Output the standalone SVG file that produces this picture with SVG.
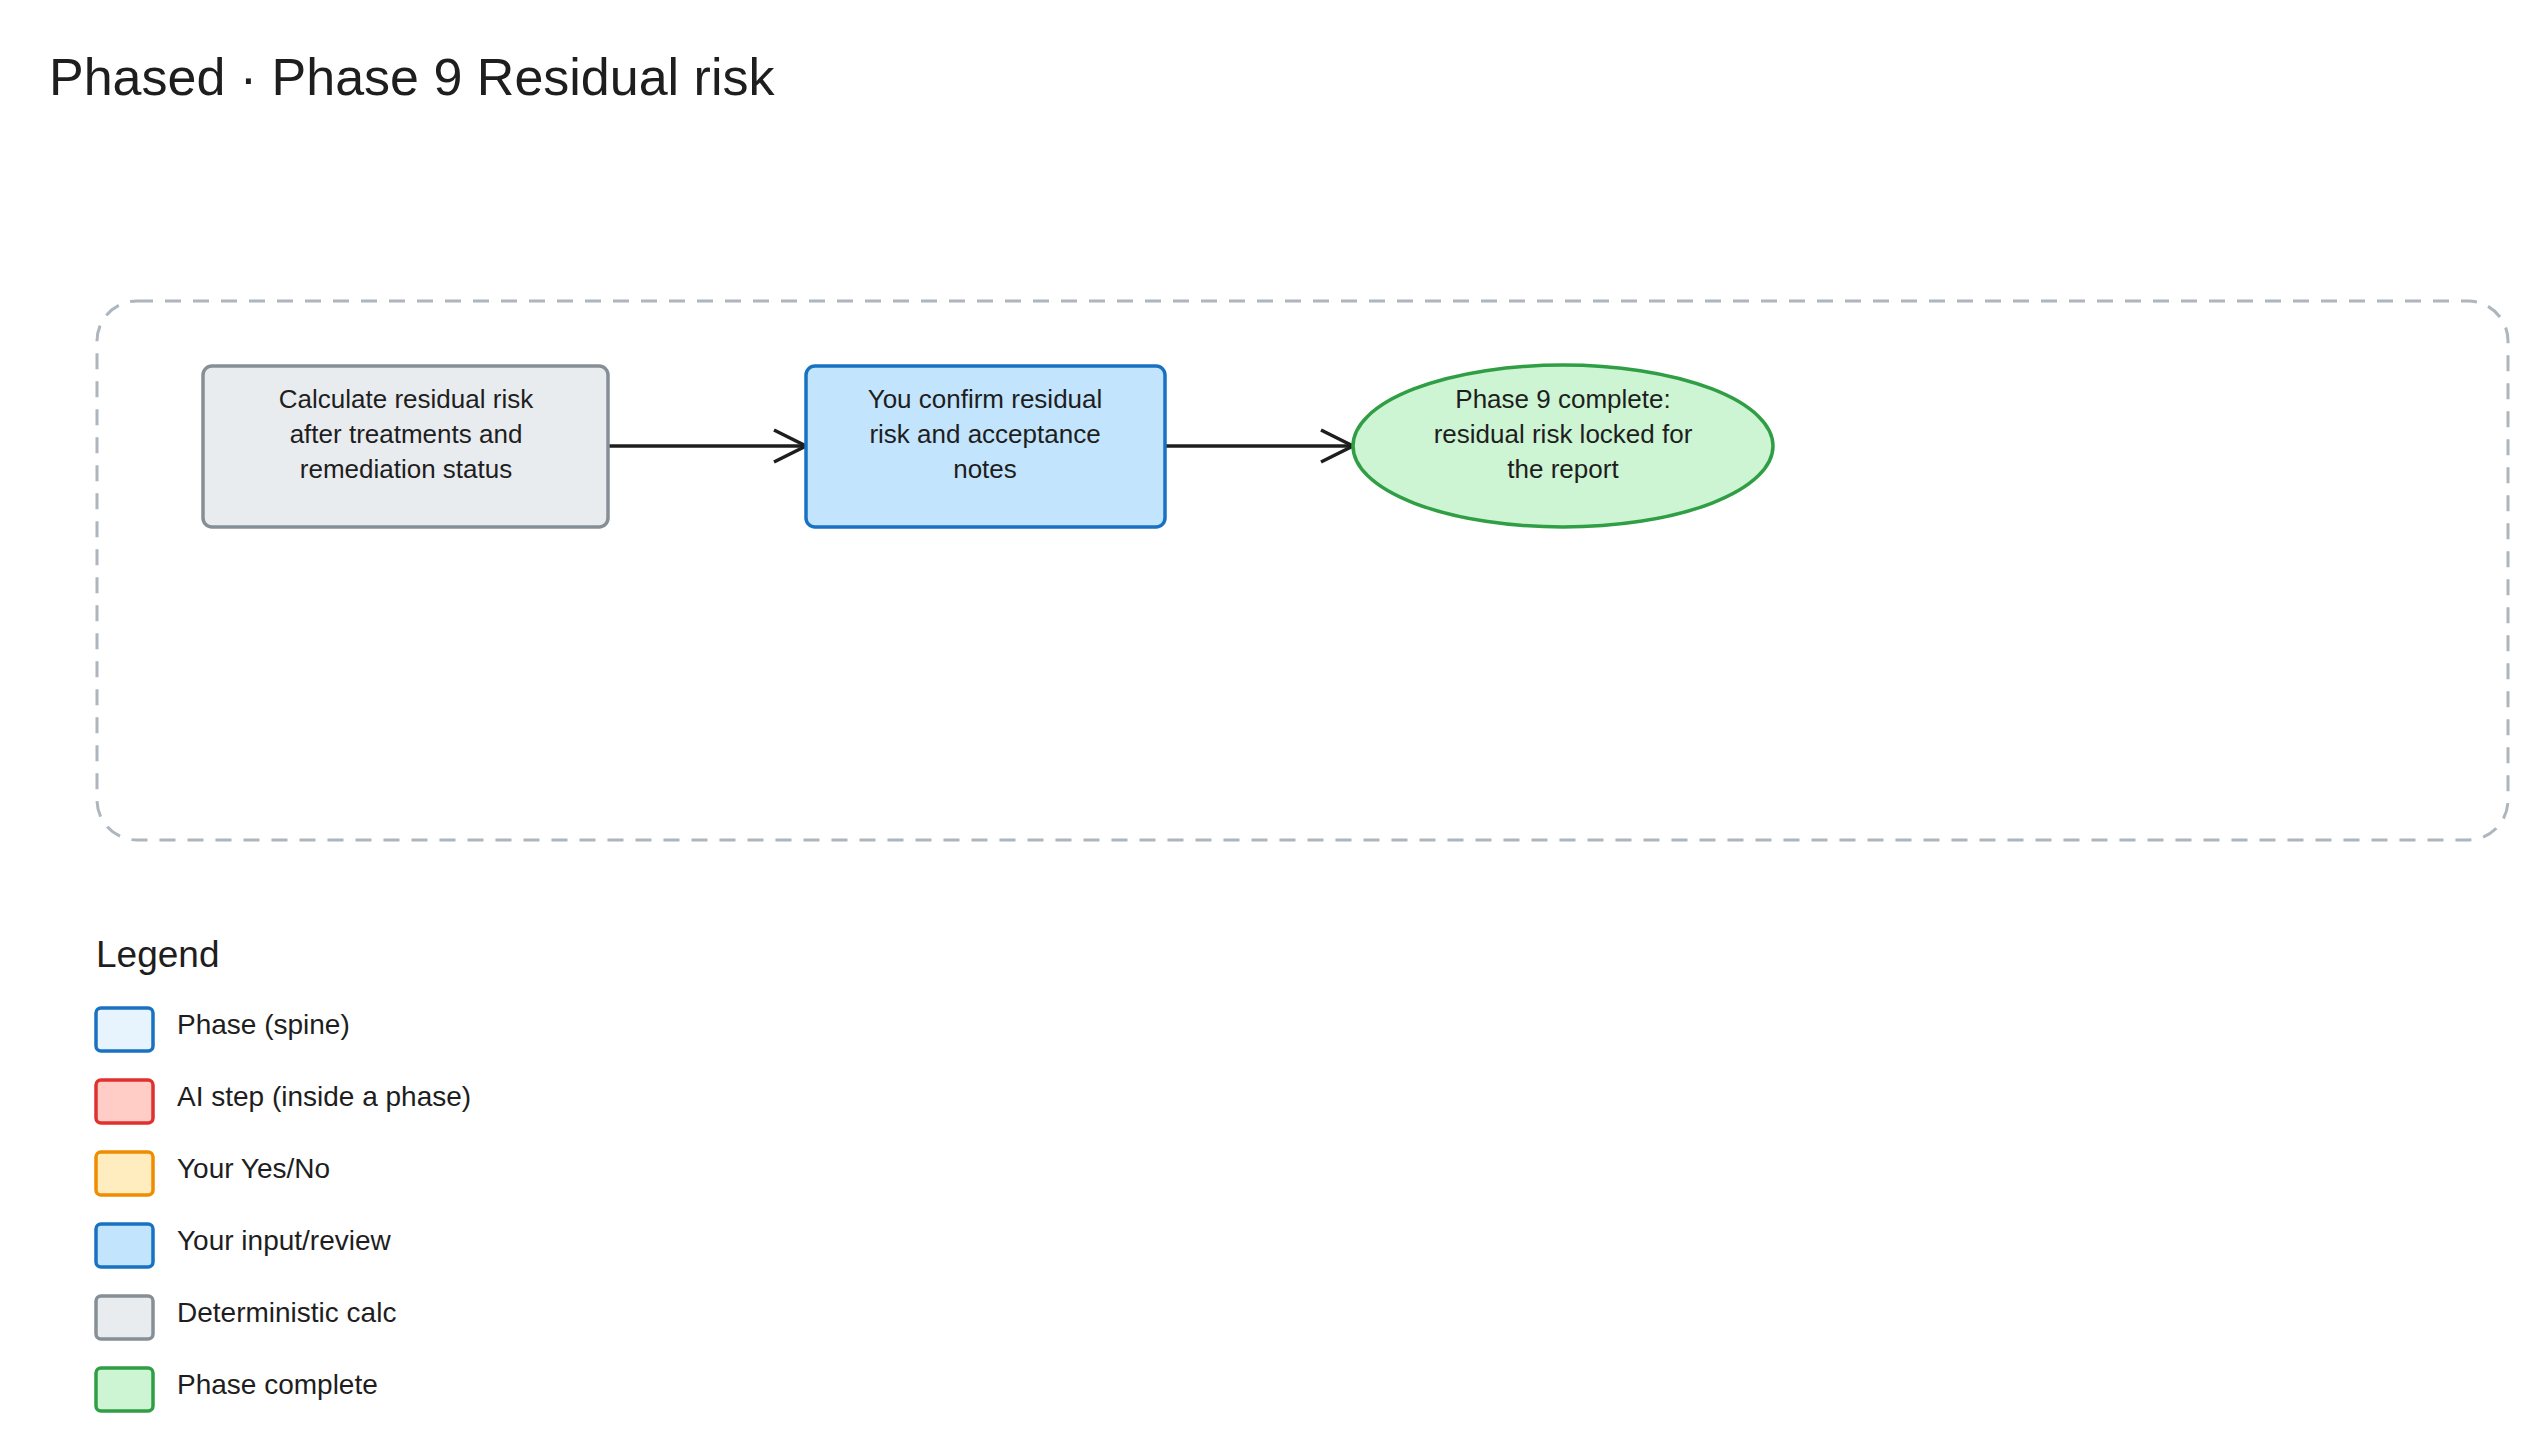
<svg xmlns="http://www.w3.org/2000/svg" width="2544" height="1456" viewBox="0 0 2544 1456">
<style>
text{font-family:"Liberation Sans",Arial,sans-serif;fill:#1e1e1e}
.n{font-size:26px;text-anchor:middle}
.l{font-size:28px}
.sw{stroke-width:3.5}
.c{stroke:#1e1e1e;stroke-width:3.5;fill:none}
</style>
<defs>
<marker id="a" markerWidth="40" markerHeight="40" refX="36" refY="20" orientation="auto" markerUnits="userSpaceOnUse" orient="auto">
<path d="M4 4 L36 20 L4 36" fill="none" stroke="#1e1e1e" stroke-width="3.5"/>
</marker>
</defs>
<rect width="2544" height="1456" fill="#fff"/>
<text x="49" y="95" style="font-size:52px">Phased · Phase 9 Residual risk</text>
<rect x="97" y="301" width="2411" height="539" rx="40" fill="none" stroke="#adb5bd" stroke-width="3" stroke-dasharray="16 12"/>
<g id="connectors">
<line class="c" x1="608" y1="446" x2="806" y2="446" marker-end="url(#a)"/>
<line class="c" x1="1165" y1="446" x2="1353" y2="446" marker-end="url(#a)"/>
</g>
<g id="calc">
<rect x="203" y="366" width="405" height="161" rx="9" fill="#e9ecef" stroke="#868e96" class="sw"/>
<text class="n" x="406" y="408">Calculate residual risk</text>
<text class="n" x="406" y="443">after treatments and</text>
<text class="n" x="406" y="478">remediation status</text>
</g>
<g id="confirm">
<rect x="806" y="366" width="359" height="161" rx="9" fill="#c2e4fc" stroke="#1971c2" class="sw"/>
<text class="n" x="985" y="408">You confirm residual</text>
<text class="n" x="985" y="443">risk and acceptance</text>
<text class="n" x="985" y="478">notes</text>
</g>
<g id="complete">
<ellipse cx="1563" cy="446" rx="210" ry="81" fill="#cdf4d3" stroke="#2f9e44" class="sw"/>
<text class="n" x="1563" y="408">Phase 9 complete:</text>
<text class="n" x="1563" y="443">residual risk locked for</text>
<text class="n" x="1563" y="478">the report</text>
</g>
<g id="legend">
<text x="96" y="967" style="font-size:37px">Legend</text>
<rect x="96" y="1008" width="57" height="43" rx="5" fill="#e8f4fd" stroke="#1971c2" class="sw"/>
<text class="l" x="177" y="1034">Phase (spine)</text>
<rect x="96" y="1080" width="57" height="43" rx="5" fill="#ffcdc6" stroke="#e03131" class="sw"/>
<text class="l" x="177" y="1106">AI step (inside a phase)</text>
<rect x="96" y="1152" width="57" height="43" rx="5" fill="#ffecbf" stroke="#f08c00" class="sw"/>
<text class="l" x="177" y="1178">Your Yes/No</text>
<rect x="96" y="1224" width="57" height="43" rx="5" fill="#c2e4fc" stroke="#1971c2" class="sw"/>
<text class="l" x="177" y="1250">Your input/review</text>
<rect x="96" y="1296" width="57" height="43" rx="5" fill="#e9ecef" stroke="#868e96" class="sw"/>
<text class="l" x="177" y="1322">Deterministic calc</text>
<rect x="96" y="1368" width="57" height="43" rx="5" fill="#cdf4d3" stroke="#2f9e44" class="sw"/>
<text class="l" x="177" y="1394">Phase complete</text>
</g>
</svg>
